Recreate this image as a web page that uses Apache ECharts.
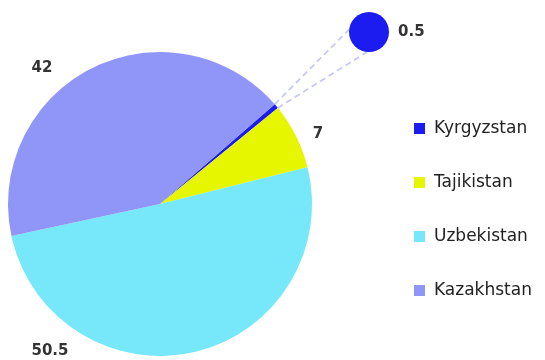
<!DOCTYPE html>
<html>
<head>
<meta charset="utf-8">
<script src="https://cdn.jsdelivr.net/npm/echarts@6/dist/echarts.min.js"></script>
<style>
  html, body { margin: 0; padding: 0; background: #ffffff; }
  #chart { width: 545px; height: 360px; }
</style>
</head>
<body>
<div id="chart"></div>
<script>
// Share of each country (percent)
const countries = ['Kyrgyzstan', 'Tajikistan', 'Uzbekistan', 'Kazakhstan'];
const shares = [0.5, 7, 50.5, 42];
const colors = ['#1c1cf0', '#e6f500', '#76e8fa', '#9096f8'];

// Layout of the main pie and the pulled-out detail bubble
const pieCenter = [160, 204];
const pieRadius = 152;
const startAngle = 41;
const bubbleCenter = [369, 32];
const bubbleRadius = 20;
// Where the value labels sit (x, y, horizontal alignment)
const labelSpots = {
  Tajikistan: [318, 134, 'center'],
  Uzbekistan: [50, 351, 'center'],
  Kazakhstan: [42, 68, 'center']
};
const bubbleLabelSpot = [398, 32, 'left'];

const labelFont = { fontFamily: 'DejaVu Sans', fontWeight: 'bold', fontSize: 15, color: '#333333' };

// Angles of the first slice's edges, derived from the data
const total = shares.reduce((a, b) => a + b, 0);
const a1 = startAngle * Math.PI / 180;
const a2 = (startAngle - shares[0] / total * 360) * Math.PI / 180;
const edge1 = [pieCenter[0] + pieRadius * Math.cos(a1), pieCenter[1] - pieRadius * Math.sin(a1)];
const edge2 = [pieCenter[0] + pieRadius * Math.cos(a2), pieCenter[1] - pieRadius * Math.sin(a2)];
const mid = [(edge1[0] + edge2[0]) / 2, (edge1[1] + edge2[1]) / 2];
const theta = Math.atan2(mid[1] - bubbleCenter[1], mid[0] - bubbleCenter[0]);
const spread = 46 * Math.PI / 180;
const onBubble = (ang) => [bubbleCenter[0] + bubbleRadius * Math.cos(ang), bubbleCenter[1] + bubbleRadius * Math.sin(ang)];
const end1 = onBubble(theta + spread);
const end2 = onBubble(theta - spread);

const connector = (p, q) => ({
  type: 'line',
  silent: true,
  z: 0,
  shape: { x1: p[0], y1: p[1], x2: q[0], y2: q[1] },
  style: { stroke: '#c6c9f2', lineWidth: 1.8, lineDash: [6, 4] }
});

const chart = echarts.init(document.getElementById('chart'), null, { renderer: 'canvas' });
chart.setOption({
  backgroundColor: '#ffffff',
  animation: false,
  legend: {
    orient: 'vertical',
    left: 414,
    top: 120,
    padding: 0,
    itemWidth: 11,
    itemHeight: 11,
    itemGap: 37,
    icon: 'rect',
    selectedMode: false,
    data: countries,
    textStyle: { fontFamily: 'DejaVu Sans', fontSize: 17, color: '#222222', lineHeight: 17, padding: [0, 0, 0, 4] }
  },
  graphic: [connector(edge1, end1), connector(edge2, end2)],
  series: [
    {
      type: 'pie',
      center: pieCenter,
      radius: pieRadius,
      startAngle: startAngle,
      clockwise: true,
      silent: true,
      z: 2,
      data: countries.map((c, i) => ({
        name: c,
        value: shares[i],
        itemStyle: { color: colors[i] },
        label: { show: i !== 0 }
      })),
      label: Object.assign({ show: true, position: 'outside', formatter: '{c}' }, labelFont),
      labelLine: { show: false },
      labelLayout: function (params) {
        const spot = labelSpots[countries[params.dataIndex]];
        if (!spot) return {};
        return { x: spot[0], y: spot[1], align: spot[2], verticalAlign: 'middle' };
      }
    },
    {
      type: 'pie',
      center: bubbleCenter,
      radius: bubbleRadius,
      silent: true,
      z: 3,
      data: [{ name: countries[0], value: shares[0], itemStyle: { color: colors[0] } }],
      label: Object.assign({ show: true, position: 'outside', formatter: '{c}' }, labelFont),
      labelLine: { show: false },
      labelLayout: function () {
        return { x: bubbleLabelSpot[0], y: bubbleLabelSpot[1], align: bubbleLabelSpot[2], verticalAlign: 'middle' };
      }
    }
  ]
});
</script>
</body>
</html>
